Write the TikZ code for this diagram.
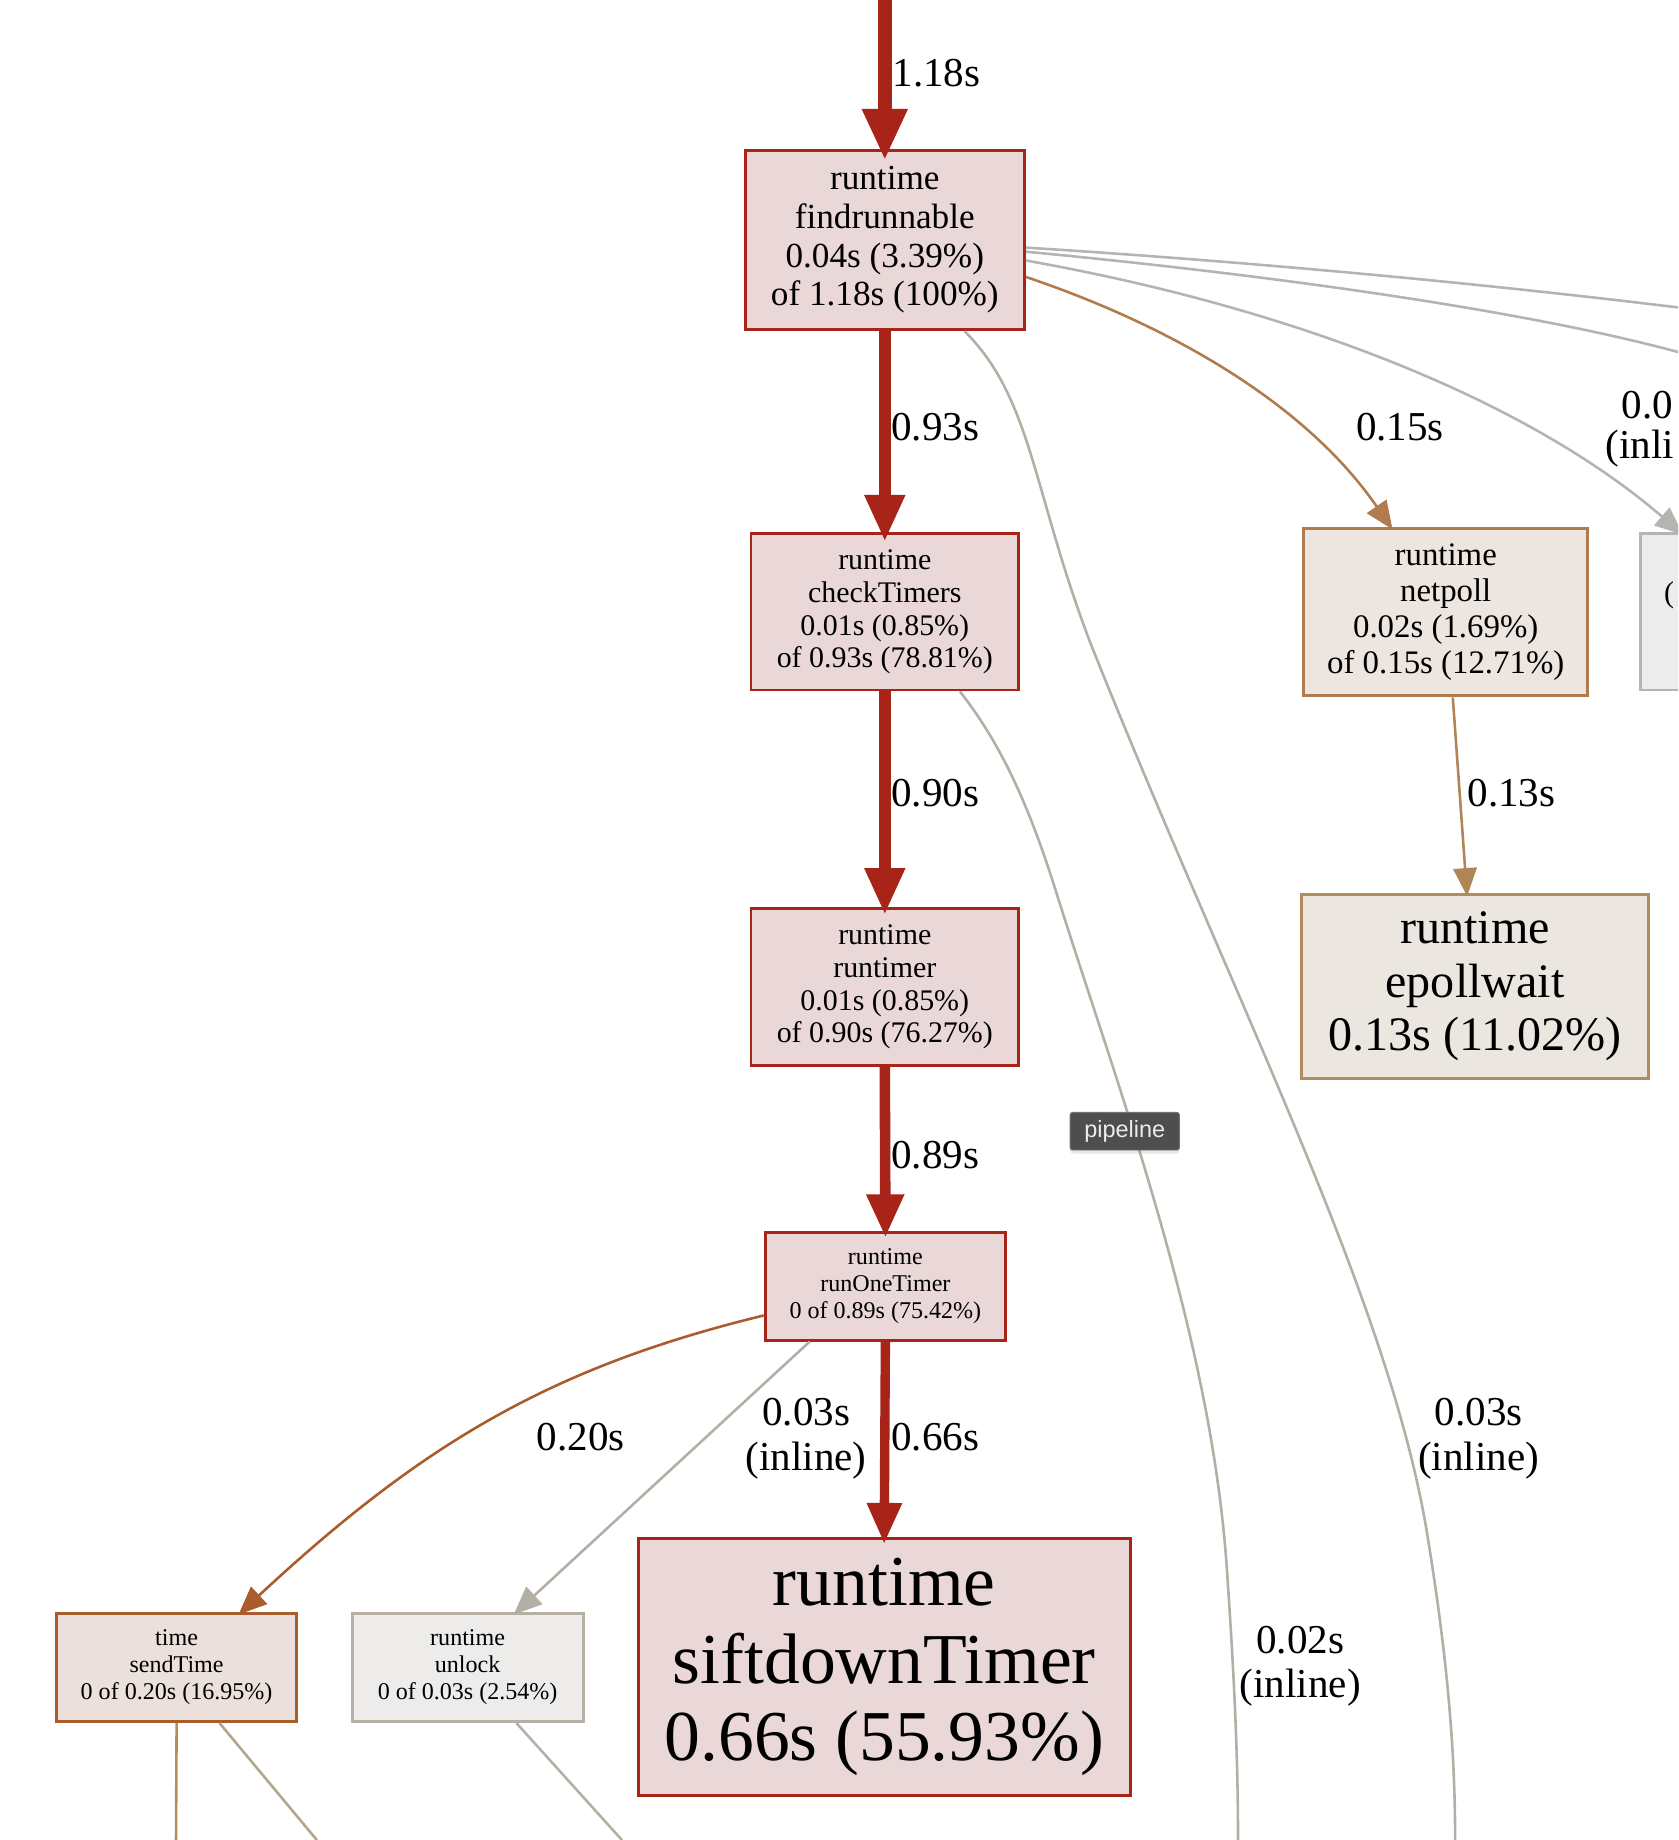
\documentclass[tikz,border=0pt]{standalone}
\usepackage{fontspec}
\setmainfont{Liberation Serif}
\newfontfamily\tipfont{Liberation Sans}
\usetikzlibrary{arrows.meta,calc,shadows}
\definecolor{redline}{RGB}{168,36,25}
\definecolor{redfill}{RGB}{233,216,215}
\definecolor{sendline}{RGB}{171,92,45}
\definecolor{sendfill}{RGB}{235,224,219}
\definecolor{netline}{RGB}{176,124,77}
\definecolor{netfill}{RGB}{237,229,224}
\definecolor{epollline}{RGB}{178,139,94}
\definecolor{epollfill}{RGB}{236,230,224}
\definecolor{netepedge}{RGB}{176,134,89}
\definecolor{grayline}{RGB}{180,175,165}
\definecolor{unlockline}{RGB}{182,176,164}
\definecolor{unlockfill}{RGB}{237,236,234}
\definecolor{rightgray}{RGB}{180,180,176}
\definecolor{rightfill}{RGB}{236,236,236}
\definecolor{senddown}{RGB}{181,141,93}
\definecolor{senddiag}{RGB}{180,165,143}
\definecolor{tipfill}{RGB}{80,78,77}
\begin{document}
\begin{tikzpicture}[x=1pt,y=-1pt,
  box/.style={draw, rectangle, align=center, inner sep=0pt, line width=2.5pt},
  redbox/.style={box, draw=redline, fill=redfill},
  elabel/.style={font=\fontsize{35}{38}\selectfont, align=center, inner sep=0pt},
  thinedge/.style={line width=2.2pt},
  thintip/.style={-{Triangle[width=20pt,length=24pt]}, shorten >=-3pt},
]
\useasboundingbox (0,0) rectangle (1430,1568);
\clip (0,0) rectangle (1430,1568);

% ---------- nodes ----------
\node[redbox, minimum width=238pt, minimum height=153pt, font=\fontsize{30}{33}\selectfont]
  (fr) at (754,204.5) {runtime\\findrunnable\\0.04s (3.39\%)\\of 1.18s (100\%)};
\node[redbox, minimum width=228pt, minimum height=133pt, font=\fontsize{25.5}{28}\selectfont]
  (ct) at (754,521.5) {runtime\\checkTimers\\0.01s (0.85\%)\\of 0.93s (78.81\%)};
\node[redbox, minimum width=228pt, minimum height=134pt, font=\fontsize{25.5}{28}\selectfont]
  (rt) at (754,841) {runtime\\runtimer\\0.01s (0.85\%)\\of 0.90s (76.27\%)};
\node[redbox, minimum width=205pt, minimum height=92pt, font=\fontsize{20.5}{23}\selectfont]
  (rot) at (754.5,1096) {runtime\\runOneTimer\\0 of 0.89s (75.42\%)};
\node[redbox, minimum width=419pt, minimum height=219pt, font=\fontsize{61}{66}\selectfont]
  (sd) at (753.5,1420.5) {runtime\\siftdownTimer\\0.66s (55.93\%)};
\node[box, draw=sendline, fill=sendfill, minimum width=205pt, minimum height=92pt, font=\fontsize{20.5}{23}\selectfont]
  (st) at (150.5,1421) {time\\sendTime\\0 of 0.20s (16.95\%)};
\node[box, draw=unlockline, fill=unlockfill, minimum width=197pt, minimum height=92pt, font=\fontsize{20.5}{23}\selectfont]
  (ul) at (398.5,1421) {runtime\\unlock\\0 of 0.03s (2.54\%)};
\node[box, draw=netline, fill=netfill, minimum width=242pt, minimum height=143pt, font=\fontsize{28}{30.5}\selectfont]
  (np) at (1232,521.5) {runtime\\netpoll\\0.02s (1.69\%)\\of 0.15s (12.71\%)};
\node[box, draw=epollline, fill=epollfill, minimum width=296pt, minimum height=157pt, font=\fontsize{41}{45.5}\selectfont]
  (ep) at (1257,840.5) {runtime\\epollwait\\0.13s (11.02\%)};
\node[box, draw=rightgray, fill=rightfill, minimum width=160pt, minimum height=133pt]
  (rn) at (1478,521.5) {};
\node[anchor=west, inner sep=0pt, font=\fontsize{25.5}{28}\selectfont] (rntext) at (1418,507) {(};

% ---------- free ends ----------
\coordinate (top) at (754,0);
\coordinate (offA) at (1430,262);
\coordinate (offB) at (1430,300);
\coordinate (botA) at (1240,1568);
\coordinate (botB) at (1055,1568);
\coordinate (botS1) at (150,1568);
\coordinate (botS2) at (270,1568);
\coordinate (botU) at (530,1568);

% ---------- main red chain ----------
\draw[redline, line width=12pt, -{Triangle[width=36pt,length=44pt]}, shorten >=-10pt] (top) -- (fr.north);
\draw[redline, line width=10pt, -{Triangle[width=32pt,length=40pt]}, shorten >=-8pt] (fr.south) -- (ct.north);
\draw[redline, line width=10pt, -{Triangle[width=32pt,length=40pt]}, shorten >=-7pt] (ct.south) -- (rt.north);
\draw[redline, line width=9pt, -{Triangle[width=30pt,length=37pt]}, shorten >=-6pt] (rt.south) -- (rot.north);
\draw[redline, line width=8pt, -{Triangle[width=28pt,length=35pt]}, shorten >=-6pt] (rot.south) -- (sd.north);

% ---------- other edges ----------
\draw[sendline, thinedge, thintip] ([yshift=-25pt]rot.west)
  .. controls (470,1165) and (360,1230) .. ([xshift=55pt]st.north);
\draw[grayline, thinedge, thintip] ([xshift=-64.5pt]rot.south) -- ([xshift=41.5pt]ul.north);
\draw[netline, thinedge, thintip] ([yshift=-31.5pt]fr.east)
  .. controls (990,275) and (1110,340) .. ([xshift=-47pt]np.north);
\draw[netepedge, thinedge, thintip] ([xshift=6pt]np.south) -- ([xshift=-7pt]ep.north);

\draw[rightgray, thinedge] ([yshift=-6.5pt]fr.east) .. controls (1050,222) and (1250,240) .. (offA);
\draw[rightgray, thinedge] ([yshift=-10pt]fr.east) .. controls (1060,232) and (1290,262) .. (offB);
\draw[rightgray, thinedge, thintip] ([yshift=-17.5pt]fr.east)
  .. controls (1100,262) and (1300,340) .. ([xshift=-46pt]rn.north);

\draw[grayline, thinedge] ([xshift=68pt]fr.south)
  .. controls (880,340) and (880,420) .. (930,550)
  .. controls (1050,850) and (1180,1100) .. (1215,1300)
  .. controls (1235,1420) and (1240,1500) .. (botA);
\draw[grayline, thinedge] ([xshift=64pt]ct.south)
  .. controls (850,630) and (875,680) .. (900,760)
  .. controls (950,920) and (1030,1130) .. (1045,1330)
  .. controls (1052,1430) and (1055,1500) .. (botB);

\draw[senddown, thinedge] (st.south) -- (botS1);
\draw[senddiag, thinedge] ([xshift=36.5pt]st.south) -- (botS2);
\draw[unlockline, thinedge] ([xshift=41.5pt]ul.south) -- (botU);

% ---------- edge labels ----------
\node[elabel] (l1) at (798,62) {1.18s};
\node[elabel] (l2) at (797,364) {0.93s};
\node[elabel] (l3) at (797,676) {0.90s};
\node[elabel] (l4) at (797,984) {0.89s};
\node[elabel] (l5) at (797,1225) {0.66s};
\node[elabel] (l6) at (495,1225) {0.20s};
\node[elabel] (l7) at (687,1226) {0.03s\\(inline)};
\node[elabel] (l8) at (1193,364) {0.15s};
\node[elabel] (l9) at (1288,676) {0.13s};
\node[elabel] (l10) at (1260,1226) {0.03s\\(inline)};
\node[elabel] (l11) at (1108,1420) {0.02s\\(inline)};
\node[elabel, anchor=west] (l12a) at (1382,345) {0.0};
\node[elabel, anchor=west] (l12b) at (1368,382) {(inli};

% ---------- tooltip ----------
\node[fill=tipfill, draw=tipfill!80!white, line width=0.8pt, rounded corners=2pt,
  minimum width=93pt, minimum height=32pt, inner sep=0pt,
  text=white!92!black, font=\tipfont\fontsize{20}{23}\selectfont,
  drop shadow={opacity=0.18, shadow xshift=0pt, shadow yshift=-3pt}]
  (tip) at (958.5,964) {pipeline};
\end{tikzpicture}
\end{document}
